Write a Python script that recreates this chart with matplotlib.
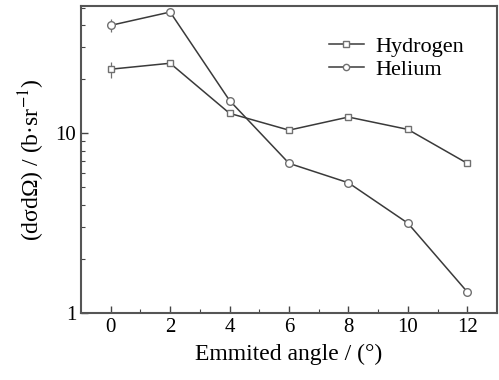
import matplotlib
matplotlib.use("Agg")
import matplotlib.pyplot as plt
from matplotlib.lines import Line2D
from matplotlib.ticker import LogLocator, NullFormatter, FixedLocator

plt.rcParams['font.family'] = ['Liberation Serif', 'DejaVu Serif']
plt.rcParams['mathtext.fontset'] = 'stix'

angles = [0, 2, 4, 6, 8, 10, 12]
hydrogen = [22.7, 24.5, 12.9, 10.4, 12.3, 10.5, 6.8]
hydrogen_err = [2.3, 0.7, 0.4, 0.3, 0.35, 0.3, 0.2]
helium = [39.8, 47.2, 15.2, 6.8, 5.3, 3.16, 1.31]
helium_err = [3.2, 1.2, 0.5, 0.2, 0.12, 0.08, 0.04]

fig = plt.figure(figsize=(4.99, 3.80), dpi=100)
ax = fig.add_axes([81/499, 1 - 313/380, (497-81)/499, (313-6)/380])

line_c = '#3a3a3a'
mk_c = '#707070'
ax.errorbar(angles, hydrogen, yerr=hydrogen_err, color=line_c, lw=1.1,
            marker='s', ms=5, mfc='white', mec=mk_c, mew=1.0,
            ecolor=mk_c, elinewidth=0.9, capsize=0)
ax.errorbar(angles, helium, yerr=helium_err, color=line_c, lw=1.1,
            marker='o', ms=5.5, mfc='white', mec=mk_c, mew=1.0,
            ecolor=mk_c, elinewidth=0.9, capsize=0)

ax.set_yscale('log')
ax.set_xlim(-1, 13)
ax.set_ylim(1, 51)
ax.set_xticks(angles)
ax.xaxis.set_minor_locator(FixedLocator([1, 3, 5, 7, 9, 11]))
ax.yaxis.set_minor_locator(LogLocator(base=10, subs=range(2, 10)))
ax.yaxis.set_minor_formatter(NullFormatter())
ax.set_yticks([1, 10])
ax.set_yticklabels(['1', '10'])

ax.tick_params(which='both', direction='in', top=False, right=False,
               color='#444444', labelsize=15)
ax.tick_params(which='major', length=5, width=1.0)
ax.tick_params(which='minor', length=3, width=0.8)
for s in ax.spines.values():
    s.set_color('#555555')
    s.set_linewidth(1.5)

ax.set_xlabel('Emmited angle / (°)', fontsize=17, labelpad=5)
ax.set_ylabel('(dσdΩ) / (b·sr$^{-1}$)', fontsize=17, labelpad=6)

handles = [
    Line2D([], [], color=line_c, lw=1.1, marker='s', ms=4, mfc='white', mec=mk_c),
    Line2D([], [], color=line_c, lw=1.1, marker='o', ms=4.5, mfc='white', mec=mk_c),
]
ax.legend(handles, ['Hydrogen', 'Helium'], loc='upper right', frameon=False,
          fontsize=16, handlelength=1.6, handletextpad=0.5,
          borderaxespad=0.9, labelspacing=0.1, bbox_to_anchor=(0.99, 0.995))

fig.savefig('out.png', dpi=100)
